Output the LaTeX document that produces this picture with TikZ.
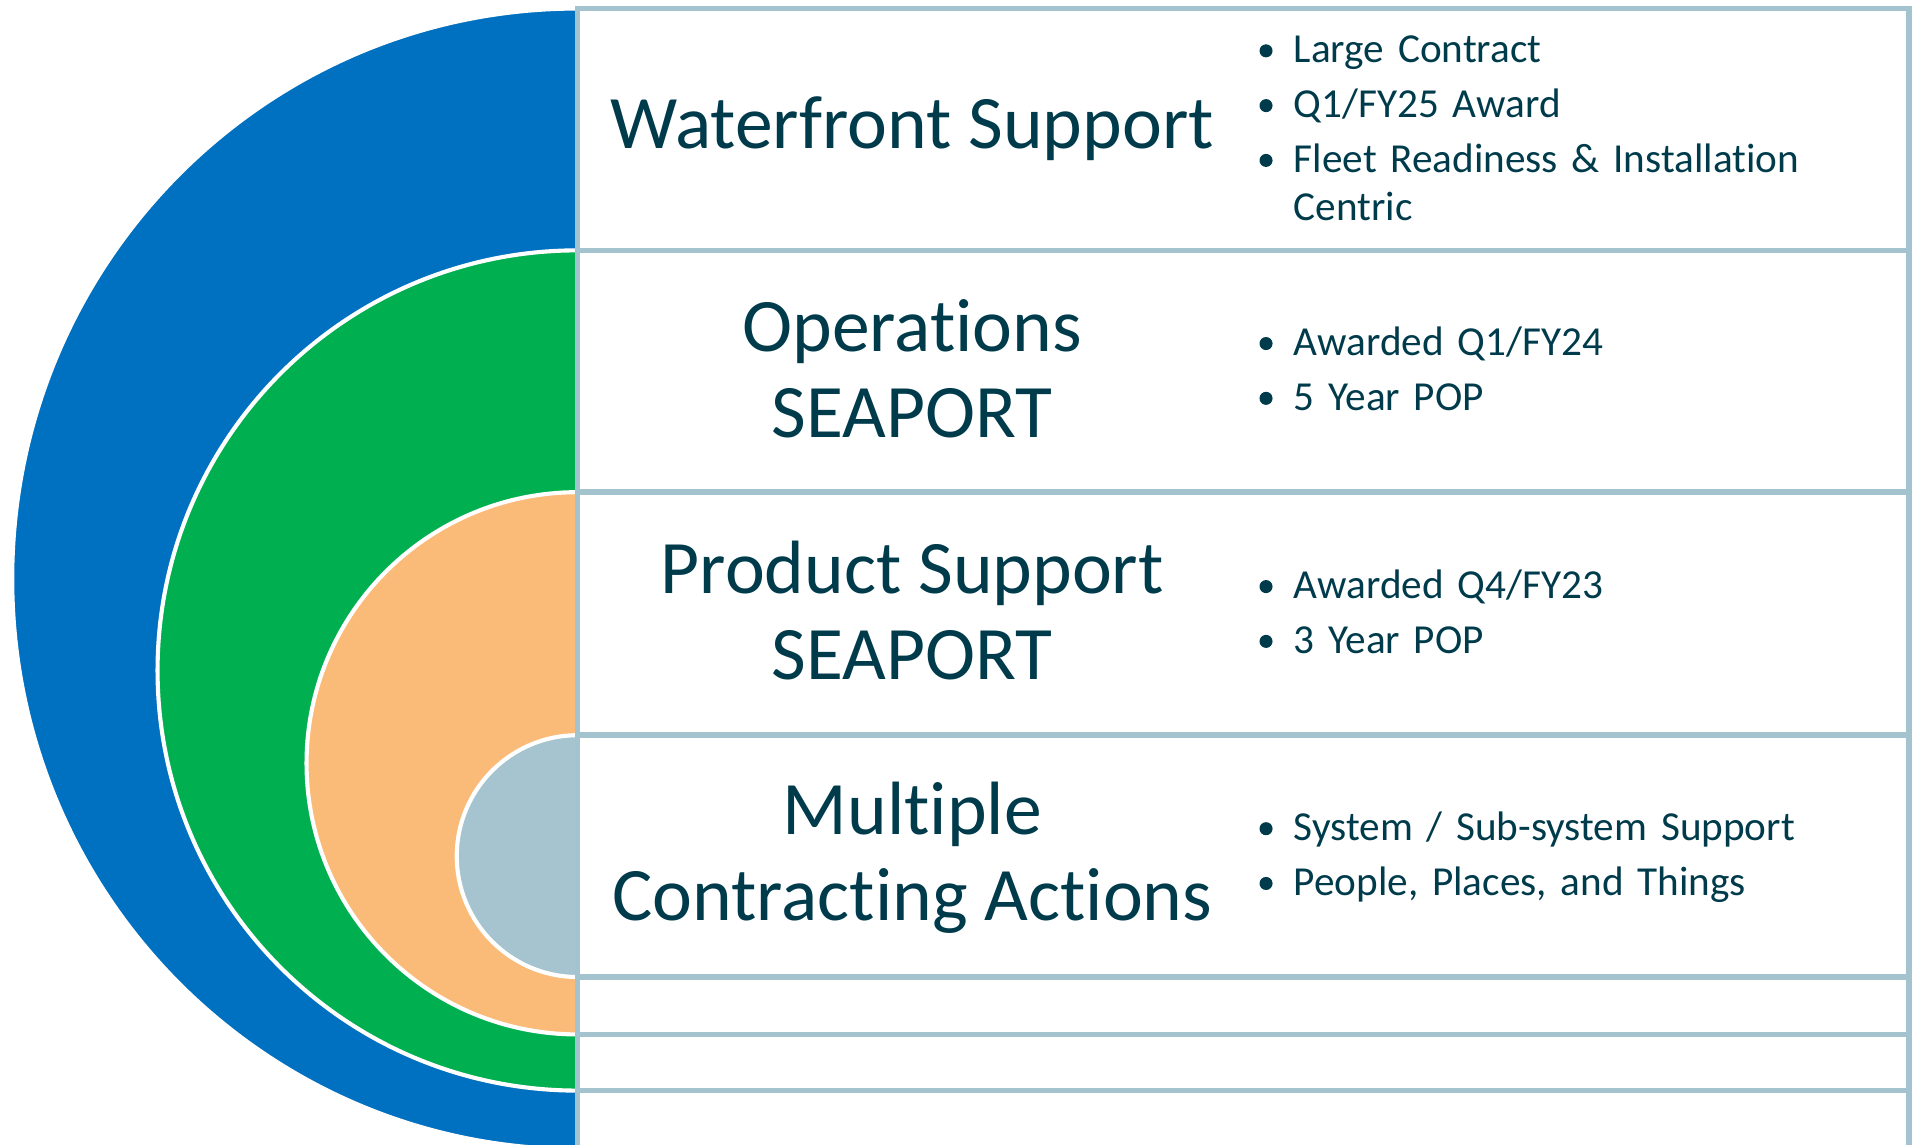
\documentclass[tikz,border=0pt]{standalone}
\usepackage{fontspec}
\setmainfont[Ligatures={NoCommon},RawFeature={-liga;-clig;-calt}]{Carlito}
\usepackage{tikz}
\usetikzlibrary{positioning}
\usetikzlibrary{calc}

\definecolor{ringblue}{HTML}{0070C0}
\definecolor{ringgreen}{HTML}{00B050}
\definecolor{ringorange}{HTML}{FABB78}
\definecolor{ringgrey}{HTML}{A5C4D0}
\definecolor{gridline}{HTML}{A3C3CF}
\definecolor{inktext}{HTML}{003B4C}

\newlength{\bindent}
\setlength{\bindent}{20pt}
\newcommand{\bdot}{\tikz[baseline=-7pt]\fill[inktext] (0,0) circle (3.8pt);}
\newcommand{\bitem}[1]{\noindent\hangindent=\bindent\hangafter=1\makebox[\bindent][l]{\bdot}#1\par}

\begin{document}
\begin{tikzpicture}[x=0.025cm,y=0.025cm,
    ring/.style={draw=white,line width=2.4pt},
    grid/.style={draw=gridline,line width=3.2pt},
    heading/.style={text=inktext,align=center,inner sep=0pt,
        font=\fontsize{44}{50}\selectfont},
    bullets/.style={text=inktext,anchor=west,inner sep=0pt,text width=360pt,
        font=\fontsize{24}{27.7}\selectfont\setlength{\parskip}{4.2pt}\raggedright}]
\useasboundingbox (0,0) rectangle (1568,937);
\begin{scope}
\clip (0,0) rectangle (1568,937);
% half rings, outermost first
\draw[ring,fill=ringblue] (473,-4) arc[start angle=-90,end angle=-270,x radius=463,y radius=467] -- cycle;
\draw[ring,fill=ringgreen] (473,44) arc[start angle=-90,end angle=-270,radius=344] -- cycle;
\draw[ring,fill=ringorange] (473,90) arc[start angle=-90,end angle=-270,radius=222] -- cycle;
\draw[ring,fill=ringgrey] (473,137) arc[start angle=-90,end angle=-270,radius=99] -- cycle;
% table lines
\foreach \y in {732,534,335,137,90,44}{
    \draw[grid] (473,\y) -- (1563,\y);
}
\draw[grid] (473,-10) -- (473,930) -- (1563,930) -- (1563,-10);
\end{scope}
% headings
\node[heading] (h1) at (747,832) {Waterfront Support};
\node[heading] (h2) at (747,635) {Operations\\SEAPORT};
\node[heading] (h3) at (747,437) {Product Support\\SEAPORT};
\node[heading] (h4) at (747,235) {Multiple\\Contracting Actions};
% bullet lists
\node[bullets] (l1) at (1031,832) {\bitem{Large Contract}\bitem{Q1/FY25 Award}\bitem{Fleet Readiness \& Installation\newline Centric}};
\node[bullets] (l2) at (1031,635) {\bitem{Awarded Q1/FY24}\bitem{5 Year POP}};
\node[bullets] (l3) at (1031,436) {\bitem{Awarded Q4/FY23}\bitem{3 Year POP}};
\node[bullets] (l4) at (1031,235) {\bitem{System / Sub-system Support}\bitem{People, Places, and Things}};
\end{tikzpicture}
\end{document}
